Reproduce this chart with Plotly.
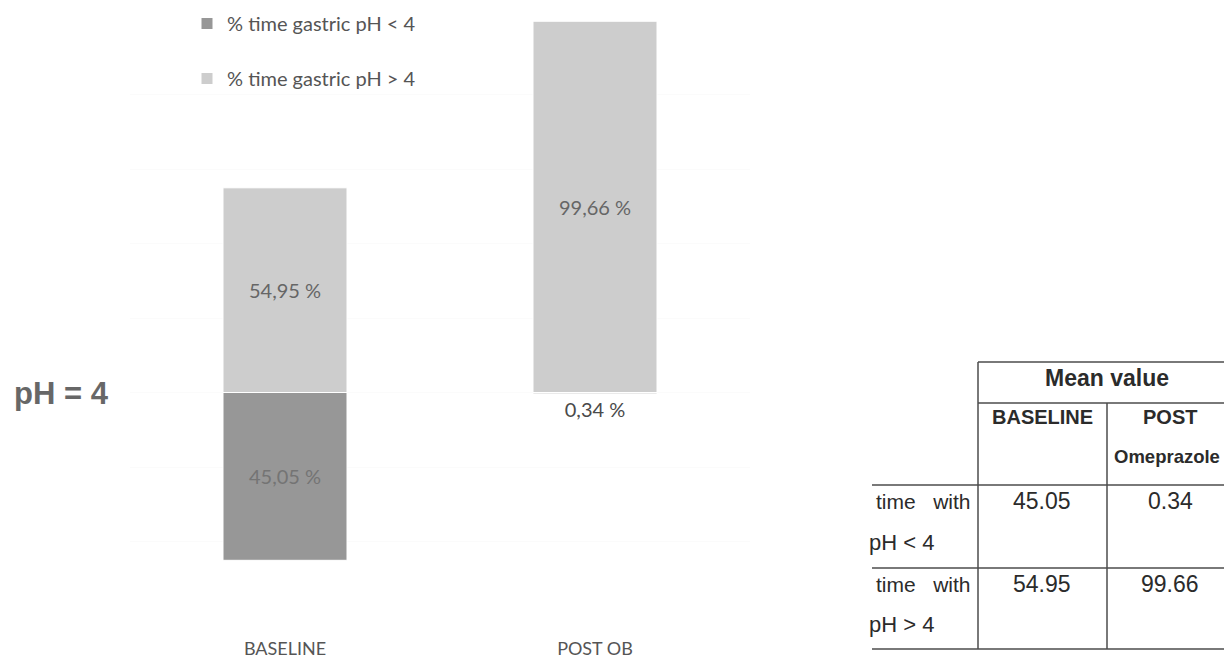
import plotly.graph_objects as go

# Mean % of recording time, by gastric pH threshold
categories = ["BASELINE", "POST OB"]
pct_below_4 = [45.05, 0.34]   # % time gastric pH < 4
pct_above_4 = [54.95, 99.66]  # % time gastric pH > 4

series_names = ["% time gastric pH < 4", "% time gastric pH > 4"]

# Summary table text
table_title = "Mean value"
table_cols = ["BASELINE", "POST<br>Omeprazole"]
row_labels = [("time\u00a0\u00a0\u00a0with", "pH < 4"), ("time\u00a0\u00a0\u00a0with", "pH > 4")]

W, H = 1224, 659
DARK = "#979797"
LIGHT = "#cdcdcd"
LABEL_FONT = "Lato, 'Open Sans', sans-serif"
TABLE_FONT = "'Liberation Sans', Arial, sans-serif"


def px(x):
    return x / W


def py(y):
    return 1 - y / H


def comma_pct(v):
    return f"{v:.2f}".replace(".", ",") + " %"


fig = go.Figure()

# pH < 4 hangs below the pH = 4 line, pH > 4 rises above it
fig.add_trace(go.Bar(
    x=categories,
    y=[-v for v in pct_below_4],
    name=series_names[0],
    legendgroup="a",
    marker=dict(color=DARK, line=dict(color="white", width=1)),
    text=[comma_pct(v) for v in pct_below_4],
    textposition=["inside", "outside"],
    insidetextanchor="middle",
    insidetextfont=dict(family=LABEL_FONT, size=20, color="#747474"),
    outsidetextfont=dict(family=LABEL_FONT, size=20, color="#4a4a4a"),
    cliponaxis=False,
    hoverinfo="skip",
))
fig.add_trace(go.Bar(
    x=categories,
    y=pct_above_4,
    name=series_names[1],
    legendgroup="b",
    marker=dict(color=LIGHT, line=dict(color="white", width=1)),
    text=[comma_pct(v) for v in pct_above_4],
    textposition="inside",
    insidetextanchor="middle",
    insidetextfont=dict(family=LABEL_FONT, size=20, color="#666666"),
    cliponaxis=False,
    hoverinfo="skip",
))

# Plot area: y = 100 at 20 px, y = -60 at 616 px
y_top_px, y_bot_px = 20, 616

fig.update_layout(
    width=W, height=H,
    margin=dict(l=0, r=0, t=0, b=0),
    paper_bgcolor="white", plot_bgcolor="white",
    barmode="relative",
    bargap=0.6,
    showlegend=True,
    legend=dict(
        x=px(187), y=py(4), xanchor="left", yanchor="top",
        traceorder="grouped", tracegroupgap=26,
        font=dict(family=LABEL_FONT, size=20, color="#555555"),
        bgcolor="rgba(0,0,0,0)",
    ),
    xaxis=dict(
        type="category", categoryorder="array", categoryarray=categories,
        range=[-0.5, 1.5], domain=[px(130), px(750)],
        showgrid=False, showline=False, zeroline=False, ticks="",
        tickfont=dict(family=LABEL_FONT, size=18, color="#555555"),
        ticklabelstandoff=20,
    ),
    yaxis=dict(
        range=[-60, 100], domain=[py(y_bot_px), py(y_top_px)],
        dtick=20, showticklabels=False, showline=False, zeroline=False,
        showgrid=True, gridcolor="#fbfbfb", gridwidth=1,
    ),
)

annotations = []
shapes = []

# Threshold label at the left
annotations.append(dict(
    xref="paper", yref="paper", x=px(12), y=py(393),
    xanchor="left", yanchor="middle", showarrow=False,
    text="<b>pH = 4</b>",
    font=dict(family=TABLE_FONT, size=31, color="#676767"),
))

# Summary table on the right
LINE = dict(color="#4d4d4d", width=1.5)
t_left, t_mid, t_right = 978, 1107, 1230
row_left = 872
y_top, y_hdr, y_r1, y_r2, y_r3 = 362, 403, 485, 568, 649


def hline(x0, x1, y):
    shapes.append(dict(type="line", xref="paper", yref="paper",
                       x0=px(x0), x1=px(x1), y0=py(y), y1=py(y), line=LINE))


def vline(x, y0, y1):
    shapes.append(dict(type="line", xref="paper", yref="paper",
                       x0=px(x), x1=px(x), y0=py(y0), y1=py(y1), line=LINE))


hline(t_left, t_right, y_top)
hline(t_left, t_right, y_hdr)
hline(row_left, t_right, y_r1)
hline(row_left, t_right, y_r2)
hline(row_left, t_right, y_r3)
vline(t_left, y_top, y_r3)
vline(t_mid, y_hdr, y_r3)


def cell_text(x, y, text, size, bold=False, anchor="center"):
    annotations.append(dict(
        xref="paper", yref="paper", x=px(x), y=py(y),
        xanchor=anchor, yanchor="middle", showarrow=False,
        text=f"<b>{text}</b>" if bold else text,
        font=dict(family=TABLE_FONT, size=size, color="#2b2b2b"),
    ))


cell_text(1107, 378, table_title, 23, bold=True)
col_x = [1042, 1170]
cell_text(col_x[0], 417, table_cols[0], 20, bold=True)
cell_text(col_x[1], 417, table_cols[1].split("<br>")[0], 20, bold=True)
cell_text(1112, 456, table_cols[1].split("<br>")[1], 18.5, bold=True, anchor="left")

row_y = [(501, 542), (584, 624)]
for (l1, l2), (ya, yb), lo, hi in zip(row_labels, row_y, [pct_below_4[0], pct_above_4[0]],
                                      [pct_below_4[1], pct_above_4[1]]):
    cell_text(973, ya, l1, 21, anchor="right")
    cell_text(867, yb, l2, 22, anchor="left")
    cell_text(col_x[0], ya, f"{lo:.2f}", 23)
    cell_text(col_x[1], ya, f"{hi:.2f}", 23)

fig.update_layout(annotations=annotations, shapes=shapes)

fig.write_html("out.html")
